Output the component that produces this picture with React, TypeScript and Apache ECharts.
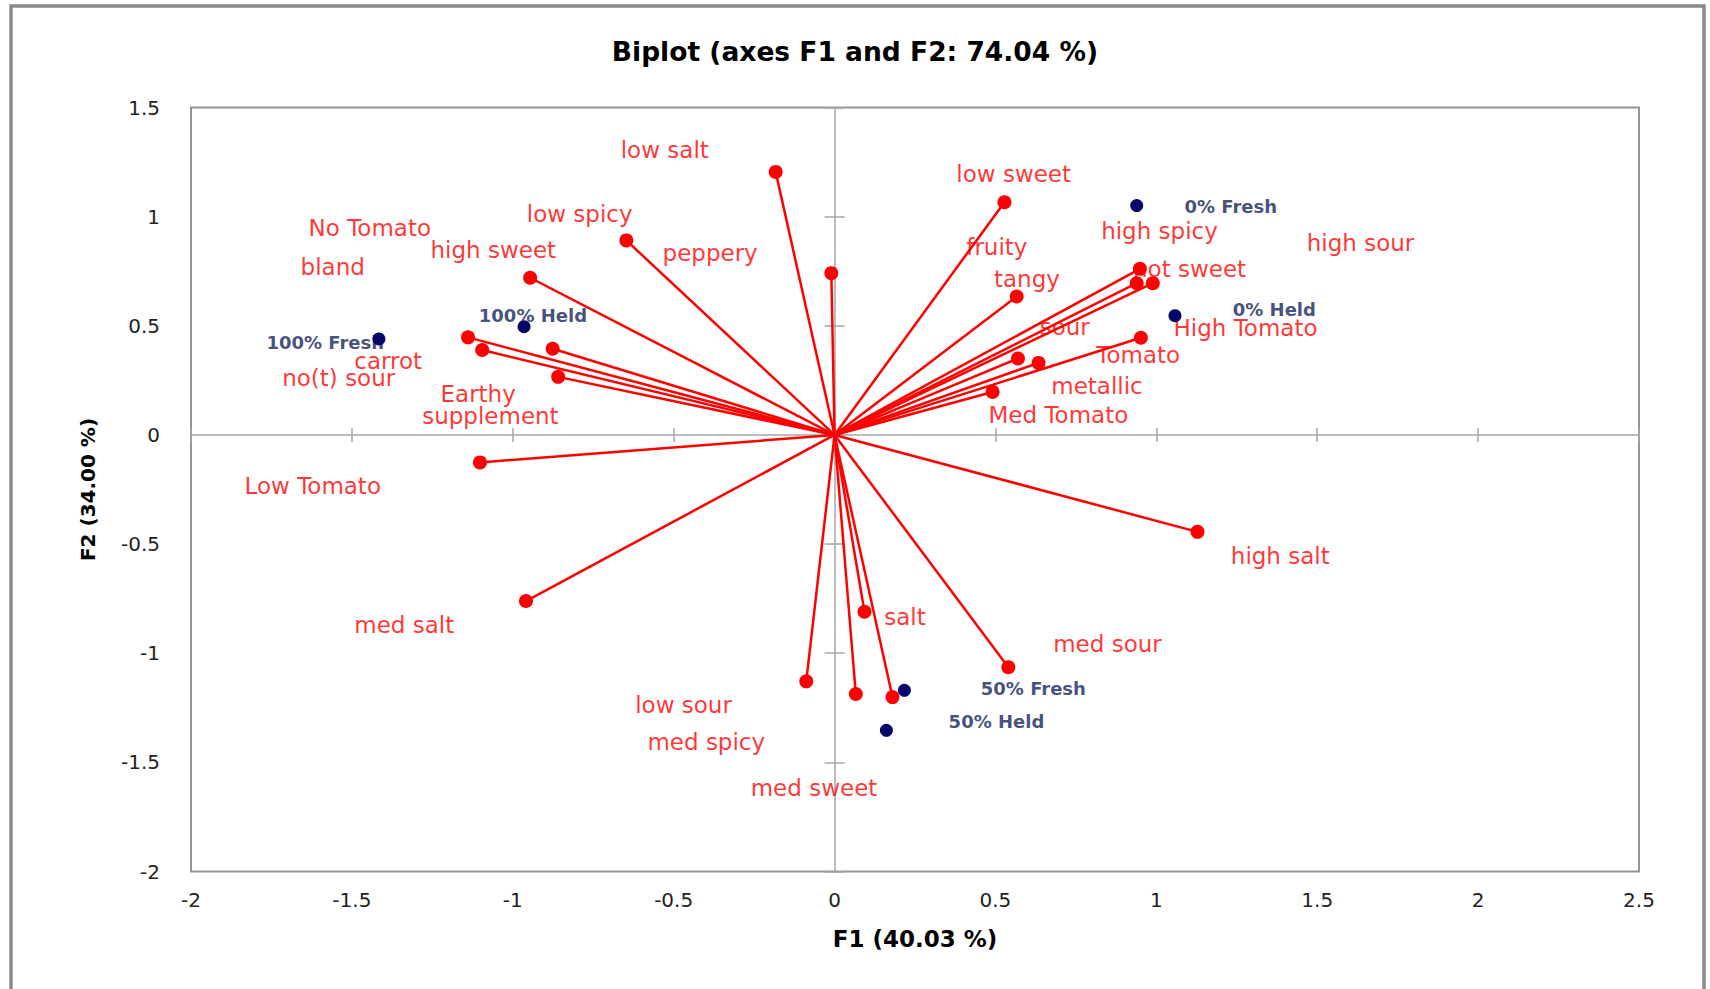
import React, { useEffect, useRef } from 'react';
import * as echarts from 'echarts';

// ---- Data ----
const titleText = 'Biplot (axes F1 and F2: 74.04 %)';
const xAxisTitle = 'F1 (40.03 %)';
const yAxisTitle = 'F2 (34.00 %)';

const xMin = -2;
const xMax = 2.5;
const yMin = -2;
const yMax = 1.5;
const tickStep = 0.5;

// Variable vectors (red), endpoint coordinates on F1 / F2
const varNames = [
  'low salt', 'low spicy', 'high sweet', 'peppery', 'bland', 'no(t) sour', 'carrot', 'Earthy',
  'Low Tomato', 'med salt', 'low sour', 'med spicy', 'med sweet', 'salt', 'med sour', 'high salt',
  'Med Tomato', 'sour', 'metallic', 'Tomato', 'tangy', 'low sweet', 'not sweet', 'high spicy', 'High Tomato',
];
const varF1 = [
  -0.183, -0.647, -0.946, -0.010, -1.139, -1.095, -0.876, -0.859,
  -1.102, -0.959, -0.088, 0.066, 0.180, 0.093, 0.540, 1.128,
  0.491, 0.570, 0.634, 0.952, 0.566, 0.528, 0.949, 0.939, 0.989,
];
const varF2 = [
  1.205, 0.891, 0.720, 0.741, 0.447, 0.389, 0.395, 0.266,
  -0.126, -0.761, -1.129, -1.187, -1.201, -0.810, -1.064, -0.444,
  0.197, 0.350, 0.330, 0.445, 0.634, 1.066, 0.761, 0.695, 0.695,
];

// Variable label anchors (F1 / F2 units, as placed in the reference)
const varLabelTexts = [
  'low salt', 'low sweet', 'No Tomato', 'low spicy', 'high spicy', 'high sour', 'fruity', 'high sweet',
  'peppery', 'not sweet', 'bland', 'tangy', 'sour', 'High Tomato', 'Tomato', 'carrot', 'no(t) sour',
  'metallic', 'Earthy', 'Med Tomato', 'supplement', 'Low Tomato', 'high salt', 'salt', 'med salt',
  'med sour', 'low sour', 'med spicy', 'med sweet',
];
const varLabelF1 = [
  -0.663, 0.380, -1.633, -0.955, 0.830, 1.469, 0.411, -1.254,
  -0.533, 0.929, -1.658, 0.497, 0.639, 1.055, 0.815, -1.491, -1.715,
  0.675, -1.223, 0.480, -1.280, -1.832, 1.233, 0.156, -1.491,
  0.681, -0.618, -0.580, -0.259,
];
const varLabelF2 = [
  1.305, 1.193, 0.945, 1.009, 0.933, 0.876, 0.859, 0.845,
  0.833, 0.756, 0.767, 0.714, 0.493, 0.488, 0.362, 0.335, 0.260,
  0.220, 0.185, 0.090, 0.085, -0.237, -0.555, -0.838, -0.871,
  -0.960, -1.241, -1.408, -1.619,
];

// Observations (dark blue)
const obsNames = ['100% Fresh', '100% Held', '0% Fresh', '0% Held', '50% Fresh', '50% Held'];
const obsF1 = [-1.416, -0.965, 0.939, 1.058, 0.217, 0.161];
const obsF2 = [0.440, 0.496, 1.051, 0.546, -1.170, -1.353];
const obsLabelF1 = [-1.764, -1.104, 1.089, 1.239, 0.456, 0.356];
const obsLabelF2 = [0.419, 0.545, 1.045, 0.572, -1.164, -1.317];

// ---- Styles ----
const RED = '#ff0000';
const NAVY_DOT = '#06066a';
const NAVY_TEXT = '#13245e';
const FONT = 'DejaVu Sans';
const AXIS_GRAY = '#a6a6a6';

function tickNum(v: number) {
  return String(v);
}

export default function App() {
  const ref = useRef<HTMLDivElement>(null);

  useEffect(() => {
    if (!ref.current) return;
    const chart = echarts.init(ref.current, null, { renderer: 'svg' });

    const baseX = { type: 'value', min: xMin, max: xMax, interval: tickStep, gridIndex: 0 } as any;
    const baseY = { type: 'value', min: yMin, max: yMax, interval: tickStep, gridIndex: 0 } as any;

    const crossLine = { color: AXIS_GRAY, width: 1.5 };

    const option: any = {
      animation: false,
      backgroundColor: '#ffffff',
      title: {
        text: titleText,
        left: 'center',
        top: 33,
        textStyle: { fontFamily: FONT, fontWeight: 'bold', fontSize: 26.5, color: '#000000' },
      },
      graphic: [
        {
          type: 'rect',
          shape: { x: 11, y: 6, width: 1693, height: 1010 },
          style: { fill: 'none', stroke: '#8a8a8a', lineWidth: 3.5 },
          silent: true,
          z: 0,
        },
      ],
      grid: {
        left: 191,
        top: 107.5,
        width: 1448,
        height: 764,
        show: true,
        borderColor: '#959595',
        borderWidth: 2,
        backgroundColor: 'transparent',
        containLabel: false,
      },
      xAxis: [
        {
          ...baseX,
          position: 'bottom',
          axisLine: { show: false, onZero: false },
          axisTick: { show: false },
          splitLine: { show: false },
          axisLabel: {
            margin: 18,
            fontSize: 20,
            fontFamily: FONT,
            color: '#222222',
            formatter: tickNum,
          },
          name: xAxisTitle,
          nameLocation: 'middle',
          nameGap: 56,
          nameTextStyle: { fontFamily: FONT, fontWeight: 'bold', fontSize: 23, color: '#000000' },
        },
        {
          ...baseX,
          position: 'bottom',
          axisLine: { show: true, onZero: true, onZeroAxisIndex: 0, lineStyle: crossLine },
          axisTick: { show: true, inside: false, length: 7, lineStyle: crossLine },
          axisLabel: { show: false },
          splitLine: { show: false },
        },
        {
          ...baseX,
          position: 'bottom',
          axisLine: { show: false, onZero: true, onZeroAxisIndex: 0 },
          axisTick: { show: true, inside: true, length: 7, lineStyle: crossLine },
          axisLabel: { show: false },
          splitLine: { show: false },
        },
      ],
      yAxis: [
        {
          ...baseY,
          position: 'left',
          axisLine: { show: false, onZero: false },
          axisTick: { show: false },
          splitLine: { show: false },
          axisLabel: {
            margin: 31,
            fontSize: 20,
            fontFamily: FONT,
            color: '#222222',
            formatter: tickNum,
          },
          name: yAxisTitle,
          nameLocation: 'middle',
          nameGap: 93,
          nameTextStyle: { fontFamily: FONT, fontWeight: 'bold', fontSize: 20, color: '#000000' },
        },
        {
          ...baseY,
          position: 'left',
          axisLine: { show: true, onZero: true, onZeroAxisIndex: 0, lineStyle: crossLine },
          axisTick: { show: true, inside: false, length: 10, lineStyle: crossLine },
          axisLabel: { show: false },
          splitLine: { show: false },
        },
        {
          ...baseY,
          position: 'left',
          axisLine: { show: false, onZero: true, onZeroAxisIndex: 0 },
          axisTick: { show: true, inside: true, length: 10, lineStyle: crossLine },
          axisLabel: { show: false },
          splitLine: { show: false },
        },
      ],
      series: [
        {
          type: 'scatter',
          name: 'variable labels',
          xAxisIndex: 0,
          yAxisIndex: 0,
          z: 1,
          silent: true,
          symbol: 'circle',
          symbolSize: 1,
          itemStyle: { color: 'rgba(0,0,0,0)' },
          label: {
            show: true,
            position: [0, 0],
            align: 'left',
            verticalAlign: 'middle',
            formatter: '{b}',
            color: RED,
            fontFamily: FONT,
            fontSize: 23,
          },
          data: varLabelTexts.map((t, i) => ({ name: t, value: [varLabelF1[i], varLabelF2[i]] })),
        },
        {
          type: 'scatter',
          name: 'observation labels',
          xAxisIndex: 0,
          yAxisIndex: 0,
          z: 1,
          silent: true,
          symbol: 'circle',
          symbolSize: 1,
          itemStyle: { color: 'rgba(0,0,0,0)' },
          label: {
            show: true,
            position: [0, 0],
            align: 'left',
            verticalAlign: 'middle',
            formatter: '{b}',
            color: NAVY_TEXT,
            fontFamily: FONT,
            fontWeight: 'bold',
            fontSize: 18,
          },
          data: obsNames.map((t, i) => ({ name: t, value: [obsLabelF1[i], obsLabelF2[i]] })),
        },
        {
          type: 'lines',
          name: 'vectors',
          coordinateSystem: 'cartesian2d',
          xAxisIndex: 0,
          yAxisIndex: 0,
          z: 2,
          silent: true,
          lineStyle: { color: RED, width: 2.5, opacity: 1, curveness: 0 },
          data: varF1.map((x, i) => ({ name: varNames[i], coords: [[0, 0], [x, varF2[i]]] })),
        },
        {
          type: 'scatter',
          name: 'variables',
          xAxisIndex: 0,
          yAxisIndex: 0,
          z: 3,
          silent: true,
          symbol: 'circle',
          symbolSize: 14,
          itemStyle: { color: RED, opacity: 1 },
          data: varF1.map((x, i) => ({ name: varNames[i], value: [x, varF2[i]] })),
        },
        {
          type: 'scatter',
          name: 'observations',
          xAxisIndex: 0,
          yAxisIndex: 0,
          z: 3,
          silent: true,
          symbol: 'circle',
          symbolSize: 13,
          itemStyle: { color: NAVY_DOT, opacity: 1 },
          data: obsF1.map((x, i) => ({ name: obsNames[i], value: [x, obsF2[i]] })),
        },
      ],
    };

    chart.setOption(option);
    return () => {
      chart.dispose();
    };
  }, []);

  return (
    <div
      ref={ref}
      style={{ position: 'fixed', left: 0, top: 0, width: '1710px', height: '989px', background: '#ffffff' }}
    />
  );
}
